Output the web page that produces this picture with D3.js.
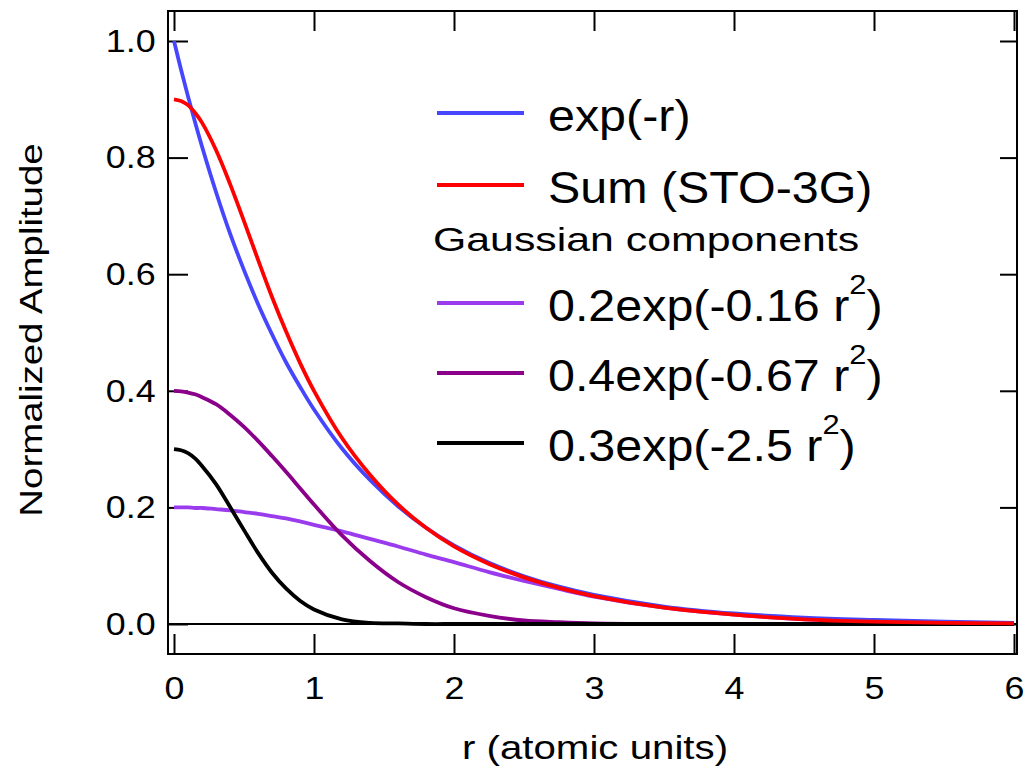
<!DOCTYPE html>
<html>
<head>
<meta charset="utf-8">
<script src="https://cdn.jsdelivr.net/npm/d3@7"></script>
<style>
  body { margin: 0; background: #fff; }
  text { font-family: "Liberation Sans", Arial, sans-serif; fill: #000; }
</style>
</head>
<body>
<div id="chart"></div>
<script>
/* values */
const rValues = [0, 0.05, 0.1, 0.15, 0.2, 0.3, 0.4, 0.5, 0.6, 0.7, 0.8, 0.9, 1.0, 1.2, 1.4, 1.6, 1.8, 2.0, 2.25, 2.5, 2.75, 3.0, 3.5, 4.0, 4.5, 5.0, 5.5, 6.0];
const expR   = [1.000, 0.951, 0.905, 0.861, 0.819, 0.741, 0.670, 0.607, 0.549, 0.497, 0.449, 0.407, 0.368, 0.301, 0.247, 0.202, 0.165, 0.135, 0.105, 0.082, 0.064, 0.050, 0.030, 0.018, 0.011, 0.007, 0.004, 0.002];
const sumSTO = [0.900, 0.897, 0.890, 0.877, 0.860, 0.813, 0.755, 0.691, 0.625, 0.561, 0.502, 0.448, 0.400, 0.319, 0.256, 0.205, 0.165, 0.133, 0.103, 0.080, 0.062, 0.048, 0.028, 0.016, 0.008, 0.004, 0.002, 0.001];
const gauss1 = [0.200, 0.200, 0.200, 0.199, 0.199, 0.197, 0.195, 0.192, 0.189, 0.185, 0.181, 0.176, 0.170, 0.159, 0.146, 0.133, 0.119, 0.106, 0.089, 0.074, 0.060, 0.047, 0.028, 0.016, 0.008, 0.004, 0.002, 0.001];
const gauss2 = [0.400, 0.399, 0.397, 0.394, 0.389, 0.377, 0.359, 0.338, 0.314, 0.288, 0.261, 0.233, 0.205, 0.152, 0.108, 0.072, 0.046, 0.027, 0.014, 0.006, 0.003, 0.001, 0.000, 0.000, 0.000, 0.000, 0.000, 0.000];
const gauss3 = [0.300, 0.298, 0.293, 0.284, 0.271, 0.240, 0.201, 0.161, 0.122, 0.088, 0.061, 0.040, 0.025, 0.008, 0.002, 0.001, 0.000, 0.000, 0.000, 0.000, 0.000, 0.000, 0.000, 0.000, 0.000, 0.000, 0.000, 0.000];

const xTicks = [0, 1, 2, 3, 4, 5, 6];
const yTicks = [0, 0.2, 0.4, 0.6, 0.8, 1.0];

const legendNames = ["exp(-r)", "Sum (STO-3G)", "0.2exp(-0.16 r", "0.4exp(-0.67 r", "0.3exp(-2.5 r"];
const legendTitle = "Gaussian components";
const xTitle = "r (atomic units)";
const yTitle = "Normalized Amplitude";

const width = 1025;
const height = 772;
const box = { left: 168, top: 11, right: 1017, bottom: 654 };

const svg = d3.select("#chart")
  .append("svg")
  .attr("width", width)
  .attr("height", height);

const x = d3.scaleLinear().domain([0, 6]).range([174, 1014]);
const y = d3.scaleLinear().domain([0, 1]).range([624, 41]);

/* frame */
svg.append("rect")
  .attr("x", box.left).attr("y", box.top)
  .attr("width", box.right - box.left)
  .attr("height", box.bottom - box.top)
  .attr("fill", "none")
  .attr("stroke", "#000")
  .attr("stroke-width", 2);

/* zero line */
svg.append("line")
  .attr("x1", box.left).attr("x2", box.right)
  .attr("y1", y(0)).attr("y2", y(0))
  .attr("stroke", "#000").attr("stroke-width", 2);

function styleAxis(g) {
  g.select(".domain").remove();
  g.selectAll(".tick line").attr("stroke-width", 2);
  g.selectAll("text")
    .style("font-size", "32px")
    .attr("fill", "#000");
}

/* bottom axis */
svg.append("g")
  .attr("transform", `translate(0,${box.bottom})`)
  .call(d3.axisBottom(x).tickValues(xTicks).tickSize(-20).tickPadding(22).tickFormat(d3.format("d")))
  .call(styleAxis)
  .call(g => g.selectAll("text").attr("transform", "scale(1.12,1)"));

/* top axis, ticks only */
svg.append("g")
  .attr("transform", `translate(0,${box.top})`)
  .call(d3.axisTop(x).tickValues(xTicks).tickSize(-20).tickFormat(""))
  .call(styleAxis);

/* left axis */
svg.append("g")
  .attr("transform", `translate(${box.left},0)`)
  .call(d3.axisLeft(y).tickValues(yTicks).tickSize(-20).tickPadding(11).tickFormat(d3.format(".1f")))
  .call(styleAxis)
  .call(g => g.selectAll("text").attr("transform", "scale(1.12,1)"));

/* right axis, ticks only */
svg.append("g")
  .attr("transform", `translate(${box.right},0)`)
  .call(d3.axisRight(y).tickValues(yTicks).tickSize(-17).tickFormat(""))
  .call(styleAxis);

/* curves */
const line = d3.line()
  .x((d, i) => x(rValues[i]))
  .y(d => y(d))
  .curve(d3.curveCatmullRom.alpha(0.5));

const curves = [
  { values: gauss1, color: "#9b3bee" },
  { values: gauss2, color: "#8b008b" },
  { values: gauss3, color: "#000000" },
  { values: expR, color: "#4646ff" },
  { values: sumSTO, color: "#ff0000" }
];

svg.append("g")
  .selectAll("path")
  .data(curves)
  .join("path")
  .attr("d", d => line(d.values))
  .attr("fill", "none")
  .attr("stroke", d => d.color)
  .attr("stroke-width", 3.8)
  .attr("stroke-linejoin", "round");

/* legend */
const legendRows = [
  { name: legendNames[0], color: "#4646ff", y: 113, sup: false },
  { name: legendNames[1], color: "#ff0000", y: 185, sup: false },
  { name: legendNames[2], color: "#9b3bee", y: 303, sup: true },
  { name: legendNames[3], color: "#8b008b", y: 373, sup: true },
  { name: legendNames[4], color: "#000000", y: 443, sup: true }
];

const legend = svg.append("g");

legendRows.forEach(row => {
  legend.append("line")
    .attr("x1", 437).attr("x2", 524)
    .attr("y1", row.y).attr("y2", row.y)
    .attr("stroke", row.color)
    .attr("stroke-width", 4);

  const t = legend.append("text")
    .attr("transform", `translate(548,${row.y + 18}) scale(1.1,1)`)
    .style("font-size", "44px");
  t.append("tspan").text(row.name);
  if (row.sup) {
    t.append("tspan").attr("dy", -27).style("font-size", "28px").text("2");
    t.append("tspan").attr("dy", 27).text(")");
  }
});

legend.append("text")
  .attr("transform", "translate(433,251) scale(1.26,1)")
  .style("font-size", "34px")
  .text(legendTitle);

/* axis titles */
svg.append("text")
  .attr("transform", "translate(595,759) scale(1.22,1)")
  .attr("text-anchor", "middle")
  .style("font-size", "33px")
  .text(xTitle);

svg.append("text")
  .attr("transform", "translate(42,330) rotate(-90) scale(1.2,1)")
  .attr("text-anchor", "middle")
  .style("font-size", "32px")
  .text(yTitle);
</script>
</body>
</html>
